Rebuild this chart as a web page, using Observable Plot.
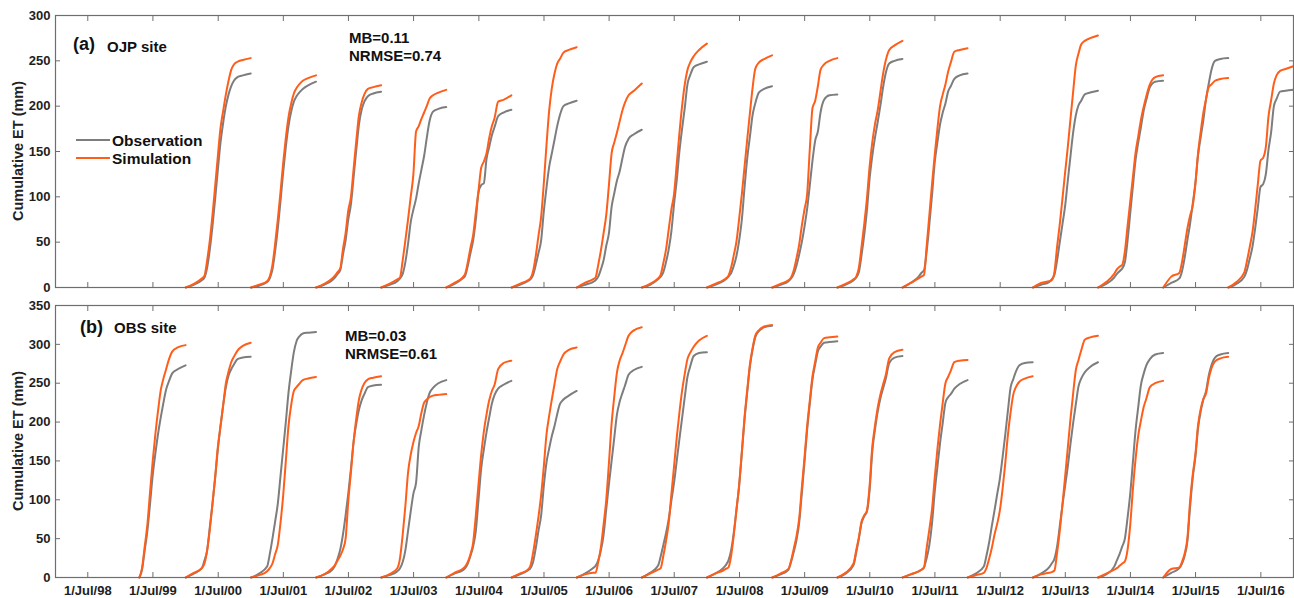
<!DOCTYPE html>
<html><head><meta charset="utf-8">
<script src="https://cdn.jsdelivr.net/npm/d3@7"></script>
<script src="https://cdn.jsdelivr.net/npm/@observablehq/plot@0.6"></script>
<style>
body{margin:0;background:#fff;}
#wrap{position:relative;width:1294px;height:598px;font-family:"Liberation Sans",Arial,sans-serif;overflow:hidden;}
#wrap svg{display:block;}
.t{position:absolute;font-weight:bold;color:#111;line-height:1;white-space:nowrap;}
.yl{position:absolute;font-weight:bold;color:#222;font-size:14.5px;line-height:1;white-space:nowrap;transform:translate(-50%,-50%) rotate(-90deg);}
.lg{position:absolute;height:2px;width:34px;}
</style></head><body><div id="wrap"></div>
<script>
// sample days (day of year) at which every cumulative curve was read
const days = [0, 45, 90, 105, 120, 135, 150, 165, 180, 195, 210, 225, 240, 255, 270, 290, 320, 364];

// (a) OJP site
const ojpYears = [2000, 2001, 2002, 2003, 2004, 2005, 2006, 2007, 2008, 2009, 2010, 2011, 2013, 2014, 2015, 2016];
const ojpObserved = [
  [0, 3, 8, 11, 22, 42, 68, 98, 130, 160, 182, 200, 213, 222, 228, 232, 234, 236],
  [0, 2, 6, 10, 20, 40, 65, 95, 127, 155, 178, 194, 205, 211, 215, 219, 223, 227],
  [0, 3, 8, 11, 15, 19, 36, 52, 75, 92, 122, 152, 180, 196, 205, 211, 214, 216],
  [0, 3, 7, 10, 15, 28, 48, 72, 86, 98, 115, 130, 145, 165, 183, 194, 197, 199],
  [0, 4, 10, 13, 24, 38, 52, 75, 105, 113, 115, 142, 155, 168, 177, 189, 193, 196],
  [0, 3, 7, 9, 14, 25, 38, 52, 84, 110, 133, 148, 163, 178, 190, 200, 203, 206],
  [0, 3, 6, 8, 12, 20, 30, 46, 60, 89, 104, 118, 128, 142, 155, 164, 169, 174],
  [0, 3, 9, 12, 17, 28, 42, 62, 92, 118, 150, 175, 198, 224, 234, 243, 246, 249],
  [0, 3, 7, 9, 12, 16, 24, 35, 52, 75, 110, 142, 166, 190, 203, 215, 219, 222],
  [0, 3, 7, 10, 15, 24, 36, 50, 67, 87, 113, 140, 162, 172, 193, 207, 212, 213],
  [0, 3, 8, 11, 17, 36, 58, 85, 120, 145, 165, 182, 200, 220, 236, 247, 250, 252],
  [0, 5, 12, 16, 19, 40, 70, 102, 138, 160, 180, 193, 203, 216, 222, 230, 234, 236],
  [0, 3, 6, 9, 14, 30, 50, 70, 90, 118, 145, 171, 190, 201, 206, 213, 215, 217],
  [0, 4, 11, 15, 18, 21, 28, 52, 82, 112, 141, 160, 177, 195, 207, 221, 227, 228],
  [0, 5, 10, 18, 33, 52, 70, 92, 115, 146, 166, 185, 208, 225, 240, 250, 252, 253],
  [0, 4, 12, 20, 32, 45, 65, 88, 111, 114, 125, 152, 172, 200, 208, 216, 217, 218]
];
const ojpSimulated = [
  [0, 4, 10, 13, 30, 52, 80, 112, 145, 176, 195, 213, 228, 240, 246, 249, 251, 253],
  [0, 3, 7, 12, 25, 48, 75, 105, 137, 165, 188, 203, 214, 220, 224, 228, 231, 234],
  [0, 4, 10, 13, 17, 21, 42, 60, 85, 100, 131, 162, 190, 204, 213, 219, 221, 223],
  [0, 4, 9, 11, 30, 52, 75, 100, 125, 172, 178, 186, 193, 200, 208, 212, 215, 218],
  [0, 5, 11, 15, 28, 44, 58, 83, 107, 132, 139, 148, 165, 178, 187, 205, 207, 212],
  [0, 4, 8, 10, 18, 35, 57, 78, 115, 157, 195, 220, 236, 247, 252, 259, 262, 265],
  [0, 5, 9, 11, 25, 41, 60, 80, 113, 148, 160, 171, 183, 195, 204, 212, 217, 225],
  [0, 4, 10, 14, 27, 42, 64, 86, 103, 136, 170, 200, 224, 240, 248, 255, 262, 269],
  [0, 4, 8, 10, 13, 22, 36, 51, 76, 103, 133, 163, 192, 220, 241, 248, 252, 256],
  [0, 4, 8, 11, 19, 32, 47, 68, 86, 103, 153, 198, 206, 222, 240, 246, 250, 253],
  [0, 4, 9, 12, 22, 45, 70, 98, 133, 160, 180, 195, 215, 235, 250, 262, 267, 272],
  [0, 5, 10, 12, 14, 46, 80, 114, 146, 175, 200, 213, 224, 238, 248, 260, 262, 264],
  [0, 5, 7, 8, 17, 45, 70, 98, 127, 155, 186, 216, 245, 258, 268, 272, 275, 278],
  [0, 6, 15, 20, 23, 25, 40, 68, 95, 122, 149, 167, 185, 199, 211, 224, 232, 234],
  [0, 12, 16, 28, 46, 65, 79, 90, 114, 148, 172, 193, 208, 221, 224, 228, 230, 231],
  [0, 6, 17, 30, 45, 61, 86, 114, 140, 143, 155, 189, 207, 225, 234, 239, 241, 244]
];

// (b) OBS site
const obsYears = [1999, 2000, 2001, 2002, 2003, 2004, 2005, 2006, 2007, 2008, 2009, 2010, 2011, 2012, 2013, 2014, 2015];
const obsObserved = [
  [null, null, null, 0, 10, 35, 60, 95, 132, 160, 185, 206, 225, 242, 252, 263, 268, 273],
  [0, 5, 12, 22, 35, 65, 95, 128, 165, 195, 222, 245, 260, 268, 274, 281, 283, 284],
  [0, 5, 14, 30, 50, 72, 95, 130, 165, 200, 238, 266, 290, 304, 310, 314, 315, 316],
  [0, 4, 10, 15, 24, 36, 55, 80, 108, 140, 175, 198, 216, 228, 236, 245, 247, 248],
  [0, 3, 8, 12, 20, 35, 60, 85, 108, 122, 168, 190, 209, 225, 237, 244, 250, 254],
  [0, 5, 9, 12, 18, 28, 40, 60, 100, 140, 165, 187, 206, 224, 235, 243, 248, 253],
  [0, 4, 9, 12, 20, 38, 60, 80, 118, 148, 166, 182, 195, 210, 223, 229, 234, 240],
  [0, 5, 12, 15, 22, 35, 55, 88, 120, 150, 180, 210, 226, 237, 247, 261, 267, 271],
  [0, 6, 15, 27, 42, 57, 75, 99, 122, 150, 178, 205, 232, 258, 271, 285, 289, 290],
  [0, 5, 12, 16, 22, 35, 58, 88, 118, 160, 203, 238, 271, 293, 309, 317, 322, 324],
  [0, 4, 10, 20, 33, 48, 70, 108, 148, 190, 224, 255, 274, 291, 297, 302, 303, 304],
  [0, 5, 16, 32, 50, 70, 79, 85, 112, 162, 190, 213, 230, 243, 255, 276, 283, 285],
  [0, 4, 8, 10, 13, 25, 42, 70, 110, 142, 173, 199, 225, 232, 236, 243, 249, 254],
  [0, 5, 14, 28, 45, 66, 86, 107, 127, 154, 183, 214, 244, 255, 265, 273, 276, 277],
  [0, 5, 13, 18, 24, 40, 66, 93, 118, 143, 172, 199, 223, 246, 256, 264, 271, 277],
  [0, 4, 14, 22, 30, 40, 50, 77, 108, 149, 190, 220, 248, 262, 273, 281, 287, 289],
  [0, 6, 12, 18, 28, 46, 90, 128, 155, 192, 214, 229, 240, 260, 273, 283, 287, 289]
];
const obsSimulated = [
  [null, null, null, 0, 12, 40, 68, 110, 150, 185, 215, 241, 256, 268, 280, 291, 296, 299],
  [0, 6, 12, 18, 35, 62, 95, 130, 168, 195, 222, 250, 265, 277, 284, 292, 298, 302],
  [0, 3, 8, 12, 18, 30, 42, 70, 105, 150, 195, 222, 240, 245, 249, 254, 256, 258],
  [0, 4, 12, 16, 22, 28, 36, 50, 98, 136, 175, 205, 229, 242, 250, 255, 257, 259],
  [0, 4, 12, 25, 55, 92, 135, 158, 174, 186, 195, 212, 225, 229, 232, 234, 235, 236],
  [0, 6, 11, 14, 20, 30, 45, 80, 120, 158, 188, 210, 228, 240, 248, 268, 276, 279],
  [0, 5, 10, 15, 32, 54, 78, 106, 143, 184, 208, 229, 249, 268, 277, 287, 293, 296],
  [0, 4, 6, 6, 20, 39, 68, 100, 147, 198, 233, 264, 279, 288, 298, 311, 318, 322],
  [0, 5, 10, 12, 28, 47, 70, 107, 143, 180, 212, 240, 262, 281, 289, 297, 305, 311],
  [0, 5, 9, 11, 13, 28, 55, 87, 120, 162, 206, 241, 274, 295, 311, 318, 323, 325],
  [0, 5, 11, 22, 37, 53, 75, 115, 154, 195, 228, 259, 278, 296, 302, 308, 309, 310],
  [0, 6, 18, 35, 52, 72, 80, 86, 118, 168, 195, 218, 235, 248, 260, 282, 290, 293],
  [0, 4, 8, 10, 13, 38, 62, 88, 128, 165, 197, 225, 250, 258, 266, 277, 279, 280],
  [0, 3, 6, 12, 24, 38, 55, 69, 86, 113, 146, 183, 212, 235, 245, 252, 256, 259],
  [0, 4, 6, 7, 9, 32, 60, 94, 130, 167, 204, 237, 267, 280, 292, 306, 309, 311],
  [0, 5, 10, 12, 15, 18, 21, 36, 68, 114, 153, 183, 202, 219, 230, 245, 250, 253],
  [0, 11, 13, 20, 31, 50, 97, 132, 158, 196, 217, 230, 237, 256, 269, 278, 282, 284]
];

const tickYears = d3.range(1998, 2017);
const xTicks = tickYears.map(y => new Date(Date.UTC(y, 6, 1)));
const fmtTick = d => `1/Jul/${String(d.getUTCFullYear()).slice(2)}`;

const grayColor = "#7d7d7d";
const orangeColor = "#ff5e1a";
const frameColor = "#6e6e6e";
const fontFamily = '"Liberation Sans", Arial, sans-serif';

function toRows(years, table) {
  const rows = [];
  years.forEach((yr, i) => {
    days.forEach((d, j) => {
      const v = table[i][j];
      rows.push({year: yr, date: new Date(Date.UTC(yr, 0, 1) + d * 864e5), value: v == null ? NaN : v});
    });
  });
  return rows;
}

function panel(years, observed, simulated, yMax, height, marginTop, marginBottom, showX) {
  const yTicks = d3.range(0, yMax + 1, 50);
  return Plot.plot({
    width: 1294, height, marginLeft: 55, marginRight: 1, marginTop, marginBottom,
    style: {fontFamily, fontSize: "13px", fontWeight: "bold", color: "#1e1e1e", background: "transparent", overflow: "visible"},
    x: {type: "utc", domain: [new Date(Date.UTC(1998, 0, 1)), new Date(Date.UTC(2016, 11, 31))]},
    y: {domain: [0, yMax]},
    marks: [
      Plot.line(toRows(years, observed), {x: "date", y: "value", z: "year", stroke: grayColor, strokeWidth: 2, curve: "monotone-x"}),
      Plot.line(toRows(years, simulated), {x: "date", y: "value", z: "year", stroke: orangeColor, strokeWidth: 2, curve: "monotone-x"}),
      Plot.frame({stroke: frameColor, strokeWidth: 1.2}),
      Plot.axisX(xTicks, {anchor: "bottom", tickSize: 5, dy: -5, fill: "none", label: null, stroke: frameColor}),
      Plot.axisX(xTicks, {anchor: "top", tickSize: 5, dy: 5, fill: "none", label: null, stroke: frameColor}),
      Plot.axisY(yTicks, {anchor: "left", tickSize: 5, dx: 5, fill: "none", label: null, stroke: frameColor}),
      Plot.axisY(yTicks, {anchor: "right", tickSize: 5, dx: -5, fill: "none", label: null, stroke: frameColor}),
      Plot.axisY(yTicks, {anchor: "left", tickSize: 0, tickPadding: 5, label: null}),
      showX ? Plot.axisX(xTicks, {anchor: "bottom", tickSize: 0, tickPadding: 8, tickFormat: fmtTick, label: null}) : null
    ]
  });
}

const wrap = document.getElementById("wrap");
wrap.append(panel(ojpYears, ojpObserved, ojpSimulated, 300, 296, 15, 9, false));
wrap.append(panel(obsYears, obsObserved, obsSimulated, 350, 302, 9, 21, true));

function addText(txt, left, top, size) {
  const el = document.createElement("div");
  el.className = "t";
  el.textContent = txt;
  el.style.left = left + "px";
  el.style.top = top + "px";
  el.style.fontSize = size + "px";
  wrap.append(el);
}
function addYLabel(cx, cy) {
  const el = document.createElement("div");
  el.className = "yl";
  el.textContent = "Cumulative ET (mm)";
  el.style.left = cx + "px";
  el.style.top = cy + "px";
  wrap.append(el);
}
function addLegendLine(color, left, top) {
  const el = document.createElement("div");
  el.className = "lg";
  el.style.background = color;
  el.style.left = left + "px";
  el.style.top = top + "px";
  wrap.append(el);
}

addYLabel(17.5, 151);
addYLabel(17.5, 441);
addText("(a)", 73, 34.5, 18);
addText("OJP site", 107, 38.5, 15);
addText("MB=0.11", 349, 30, 15);
addText("NRMSE=0.74", 349, 48.3, 15);
addLegendLine(grayColor, 76, 138.5);
addText("Observation", 112, 133, 15.5);
addLegendLine(orangeColor, 76, 156.5);
addText("Simulation", 112, 151.3, 15.5);
addText("(b)", 80, 317.8, 18);
addText("OBS site", 114, 320.3, 15);
addText("MB=0.03", 345, 328, 15);
addText("NRMSE=0.61", 345, 345.6, 15);
</script>
</body></html>
